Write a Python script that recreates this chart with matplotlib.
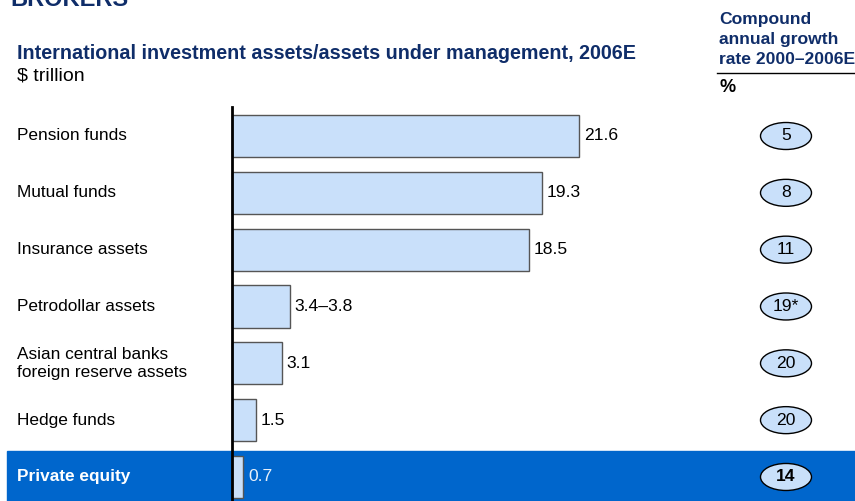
import numpy as np
from matplotlib import pyplot as plt
from matplotlib.patches import Ellipse

plt.rcParams['font.family'] = ['Liberation Sans', 'DejaVu Sans']

categories = ['Pension funds', 'Mutual funds', 'Insurance assets', 'Petrodollar assets',
              'Asian central banks\nforeign reserve assets', 'Hedge funds', 'Private equity']
values = [21.6, 19.3, 18.5, 3.6, 3.1, 1.5, 0.7]
value_labels = ['21.6', '19.3', '18.5', '3.4\u20133.8', '3.1', '1.5', '0.7']
growth = ['5', '8', '11', '19*', '20', '20', '14']
growth_header = ['Compound', 'annual growth', 'rate 2000\u20132006E']

navy = '#0F2D69'
bar_fill = '#C9E0FA'
band = '#0066CC'

W, H = 855, 501
fig = plt.figure(figsize=(W / 100, H / 100), dpi=100)
ax = fig.add_axes([0, 0, 1, 1])
ax.axis('off')

# pixel layout: zero line at x=232, 16.06 px per $tn; rows 56.83 px apart starting at y=136
xs, x0 = 16.06, 232
ys, y0 = 56.83, 136
ax.set_xlim(-x0 / xs, (W - x0) / xs)
ax.set_ylim((H - y0) / ys, -y0 / ys)

def px(x, y):
    return x / W, 1 - y / H

y = np.arange(len(categories))
hl = len(categories) - 1

# highlight band for private equity
ax.axhspan((451 - y0) / ys, (H - y0) / ys, xmin=7 / W, xmax=1, color=band, zorder=0)

ax.barh(y, values, height=0.74, color=bar_fill, edgecolor='#555555', linewidth=1, zorder=2)
ax.plot([0, 0], [(107 - y0) / ys, (H - y0) / ys], color='black', lw=2, zorder=3)

for i, (cat, v, lab, g) in enumerate(zip(categories, values, value_labels, growth)):
    is_hl = i == hl
    ax.text(-x0 / xs + 17 / xs, i, cat, va='center', ha='left', fontsize=12.4,
            color='white' if is_hl else 'black', fontweight='bold' if is_hl else 'normal',
            linespacing=1.25)
    ax.text(v + 5 / xs, i, lab, va='center', ha='left', fontsize=12.6,
            color='#E8F0FA' if is_hl else 'black')
    gx = (786 - x0) / xs
    ax.add_patch(Ellipse((gx, i), width=51 / xs, height=27 / ys, facecolor=bar_fill,
                         edgecolor='black', lw=1, zorder=3))
    ax.text(gx, i, g, va='center', ha='center', fontsize=12.6, zorder=4,
            fontweight='bold' if is_hl else 'normal')

# header texts
fig.text(*px(10, 6), 'BROKERS', fontsize=17, fontweight='bold', color=navy, va='baseline')
fig.text(*px(17, 59), 'International investment assets/assets under management, 2006E',
         fontsize=14.2, fontweight='bold', color=navy, va='baseline')
fig.text(*px(17, 80), '$ trillion', fontsize=14, color='black', va='baseline')
for k, line in enumerate(growth_header):
    fig.text(*px(719, 24 + 20 * k), line, fontsize=12.6,
             fontweight='bold', color=navy, va='baseline')
fig.text(*px(719, 92), '%', fontsize=13, fontweight='bold', color='black', va='baseline')
ax.plot([(717 - x0) / xs, (W - x0) / xs], [(73 - y0) / ys] * 2, color='black', lw=1)

fig.savefig('out.png', dpi=100)
